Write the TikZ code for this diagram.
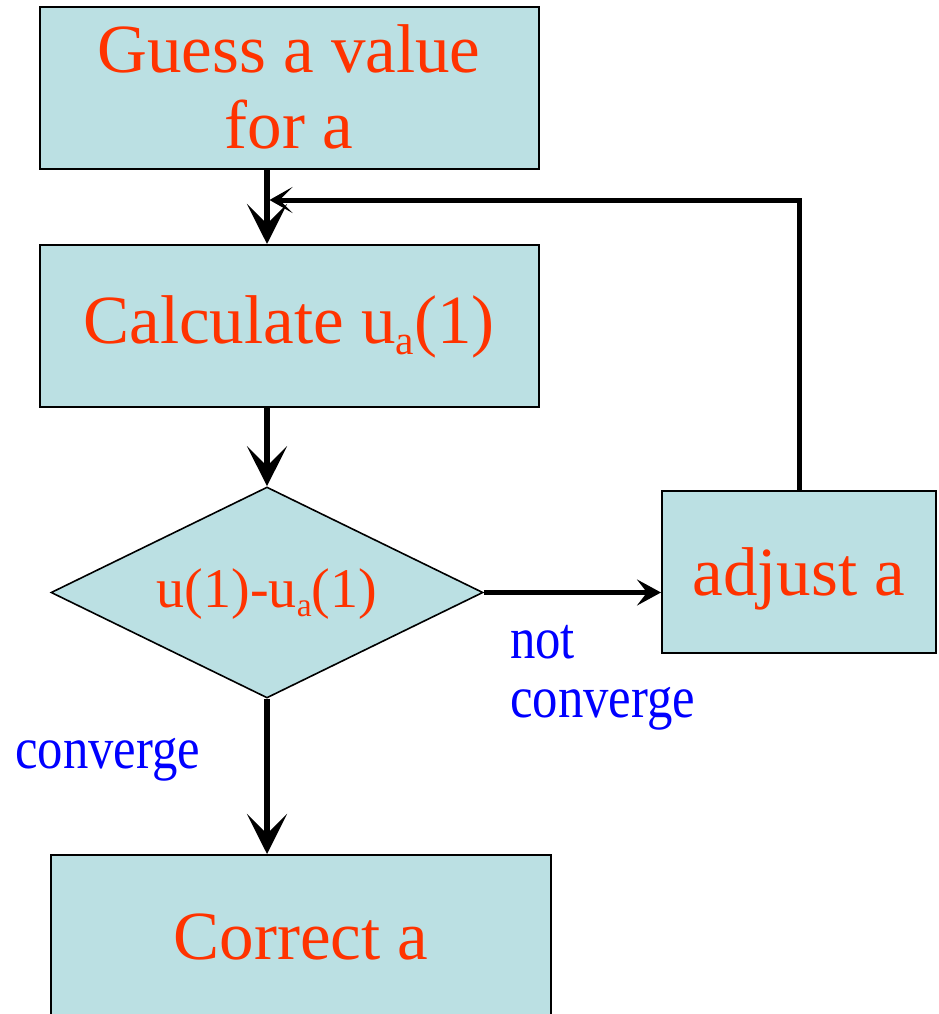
\documentclass[tikz,border=0pt]{standalone}
\usepackage{fontspec}
\setmainfont{Liberation Serif}
\usepackage{graphicx}
\usetikzlibrary{arrows.meta,shapes.geometric}
\definecolor{boxfill}{RGB}{187,224,227}
\definecolor{redtxt}{RGB}{255,51,0}
\definecolor{bluetxt}{RGB}{0,0,255}
\newcommand{\suba}{\raisebox{-0.17em}{\scalebox{0.6}{a}}}
\newcommand{\narrow}[1]{\scalebox{0.86}[1]{#1}}
\tikzset{
  box/.style={rectangle, draw=black, line width=2pt, fill=boxfill, inner sep=0pt,
    text=redtxt, font=\fontsize{69}{75}\selectfont, align=center},
  dia/.style={diamond, aspect=2, draw=black, line width=1.6pt, fill=boxfill, inner sep=0pt,
    text=redtxt, font=\fontsize{56}{60}\selectfont},
  lbl/.style={inner sep=0pt, text=bluetxt, font=\fontsize{59}{59}\selectfont, align=left},
  bigarrow/.style={line width=6pt, -{Stealth[length=40pt,width=40pt,inset=20pt]}},
  midarrow/.style={line width=4.5pt, -{Stealth[length=24pt,width=26pt,inset=10pt]}},
  fbarrow/.style={line width=5pt, -{Stealth[length=23pt,width=26pt,inset=13pt]}}
}
\begin{document}
\begin{tikzpicture}[x=1pt,y=-1pt]
\useasboundingbox (0,0) rectangle (938,1014);
\node[box, minimum width=499pt, minimum height=162pt, text height=124pt, text depth=4pt] (g) at (289,88) {Guess a value\\for a};
\node[box, minimum width=499pt, minimum height=162pt, text height=40pt, text depth=6pt] (c) at (289,326) {Calculate u\suba(1)};
\node[dia, minimum width=432pt, minimum height=211pt, text height=35pt, text depth=6pt] (d) at (267,592.5) {u(1)-u\suba(1)};
\node[box, minimum width=274pt, minimum height=162pt, text height=50pt, text depth=4pt] (a) at (799,572) {adjust a};
\node[box, minimum width=500pt, minimum height=166pt, text height=46pt, text depth=4pt] (k) at (301,938) {Correct a};
\node[lbl, anchor=base west] (nc) at (510,717) {\narrow{not}\\\narrow{converge}};
\node[lbl, anchor=base west] (cv) at (15,768) {\narrow{converge}};
\coordinate (fb) at (269.5,200);
\draw[bigarrow] (g.south -| d.north) -- (d.north |- c.north);
\draw[bigarrow] (c.south -| d.north) -- (d.north);
\draw[bigarrow] (d.south) -- (d.south |- k.north);
\draw[midarrow] (d.east) -- (d.east -| a.west);
\draw[fbarrow] (a.north) |- (fb);
\end{tikzpicture}
\end{document}
